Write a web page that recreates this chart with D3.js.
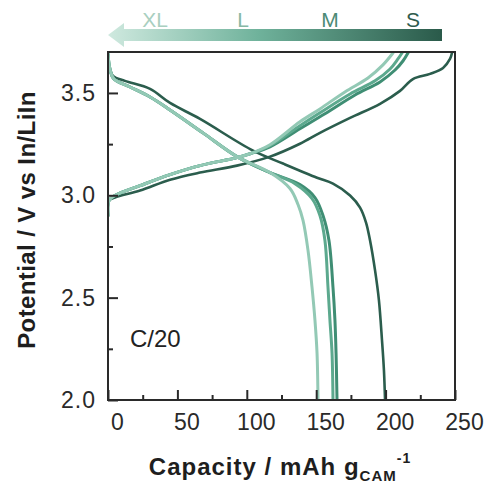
<!DOCTYPE html>
<html>
<head>
<meta charset="utf-8">
<script src="https://cdn.jsdelivr.net/npm/d3@7"></script>
<style>
  html, body { margin: 0; padding: 0; background: #fff; }
  svg { display: block; font-family: "Liberation Sans", Arial, sans-serif; }
</style>
</head>
<body>
<svg id="chart" width="489" height="488"></svg>
<script>
// ---------------- data ----------------
const seriesNames = ["S", "M", "L", "XL"];
const seriesColors = ["#2b5d4d", "#3f8e74", "#5ca98e", "#93c9b5"];
const labelColors = ["#2e5b4d", "#4c8b76", "#86b8a5", "#a9cfc0"];

// capacity (mAh/g) / potential (V) pairs
const S_charge_cap = [0, 0.7, 5.0, 23.1, 44.7, 66.3, 92.9, 116.7, 138.3, 152.7, 174.4, 196.0, 210.4, 219.7, 232.0, 241.4, 246.4, 247.8];
const S_charge_v   = [2.90, 2.974, 2.989, 3.023, 3.076, 3.111, 3.145, 3.189, 3.252, 3.305, 3.378, 3.447, 3.510, 3.568, 3.593, 3.622, 3.666, 3.695];
const S_dis_cap = [0, 0.7, 3.6, 12.2, 30.3, 44.7, 66.3, 104.5, 126.1, 150.6, 162.1, 174.4, 181.6, 185.9, 188.8, 192.4, 195.2, 197.4, 198.8, 199.6];
const S_dis_v   = [3.690, 3.632, 3.583, 3.559, 3.520, 3.451, 3.373, 3.218, 3.155, 3.086, 3.057, 2.999, 2.940, 2.867, 2.779, 2.633, 2.487, 2.292, 2.146, 2.0];

const M_charge_cap = [0, 0.7, 5.0, 23.1, 44.7, 66.3, 92.9, 102.3, 116.7, 138.3, 156.3, 178.0, 196.0, 206.8, 212.5, 216.1];
const M_charge_v   = [2.90, 2.974, 2.999, 3.047, 3.101, 3.145, 3.184, 3.203, 3.237, 3.325, 3.398, 3.490, 3.554, 3.612, 3.656, 3.695];
const M_dis_cap = [0, 1.4, 4.3, 15.9, 30.3, 44.7, 68.4, 92.9, 116.7, 138.3, 149.1, 154.9, 159.2, 162.1, 163.5, 164.3, 165.0];
const M_dis_v   = [3.690, 3.617, 3.568, 3.529, 3.480, 3.417, 3.305, 3.189, 3.111, 3.052, 2.989, 2.901, 2.779, 2.550, 2.390, 2.229, 2.0];

const L_charge_cap = [0, 0.7, 5.0, 23.1, 44.7, 66.3, 92.9, 102.3, 116.7, 138.3, 152.7, 174.4, 192.4, 203.2, 208.9, 211.8];
const L_charge_v   = [2.90, 2.974, 2.999, 3.047, 3.101, 3.145, 3.184, 3.203, 3.242, 3.340, 3.403, 3.495, 3.559, 3.617, 3.666, 3.695];
const L_dis_cap = [0, 1.4, 4.3, 15.9, 30.3, 44.7, 68.4, 92.9, 116.7, 134.7, 147.0, 152.7, 156.3, 158.5, 159.9, 161.4, 162.1];
const L_dis_v   = [3.690, 3.617, 3.568, 3.529, 3.480, 3.417, 3.305, 3.189, 3.111, 3.057, 2.984, 2.901, 2.779, 2.550, 2.390, 2.229, 2.0];

const XL_charge_cap = [0, 0.7, 5.0, 23.1, 44.7, 66.3, 92.9, 102.3, 116.7, 138.3, 152.7, 170.7, 187.3, 198.1, 205.3];
const XL_charge_v   = [2.90, 2.974, 2.999, 3.047, 3.101, 3.145, 3.184, 3.203, 3.247, 3.359, 3.422, 3.505, 3.573, 3.637, 3.695];
const XL_dis_cap = [0, 1.4, 4.3, 15.9, 30.3, 44.7, 68.4, 92.9, 116.7, 131.1, 136.9, 140.5, 144.1, 147.0, 149.1, 150.6, 151.3];
const XL_dis_v   = [3.690, 3.617, 3.568, 3.529, 3.480, 3.417, 3.305, 3.189, 3.111, 3.033, 2.955, 2.877, 2.731, 2.550, 2.390, 2.229, 2.0];

const xMajorTicks = [0, 50, 100, 150, 200, 250];
const xMinorTicks = [25, 75, 125, 175, 225];
const yMajorTicks = [2.0, 2.5, 3.0, 3.5];
const yMinorTicks = [2.25, 2.75, 3.25];
const rateLabel = "C/20";

// ---------------- drawing ----------------
const svg = d3.select("#chart");
const x = d3.scaleLinear().domain([0, 250]).range([108, 455]);
const y = d3.scaleLinear().domain([2.0, 3.7]).range([400, 52]);

const curves = {
  S: [[S_charge_cap, S_charge_v], [S_dis_cap, S_dis_v]],
  M: [[M_charge_cap, M_charge_v], [M_dis_cap, M_dis_v]],
  L: [[L_charge_cap, L_charge_v], [L_dis_cap, L_dis_v]],
  XL: [[XL_charge_cap, XL_charge_v], [XL_dis_cap, XL_dis_v]]
};

const defs = svg.append("defs");
defs.append("clipPath").attr("id", "plotclip")
  .append("rect").attr("x", x(0)).attr("y", y(3.7)).attr("width", x(250) - x(0)).attr("height", y(2.0) - y(3.7));

const line = d3.line().x(d => x(d[0])).y(d => y(d[1])).curve(d3.curveCatmullRom.alpha(0.5));
const plot = svg.append("g").attr("clip-path", "url(#plotclip)");
seriesNames.forEach((name, i) => {
  curves[name].forEach(([caps, vs]) => {
    const pts = caps.map((c, k) => [c, vs[k]]);
    plot.append("path").attr("d", line(pts))
      .attr("fill", "none").attr("stroke", seriesColors[i])
      .attr("stroke-width", name === "S" ? 2.6 : 3)
      .attr("stroke-linejoin", "round").attr("stroke-linecap", "round");
  });
});

// axes
const axisColor = "#2a2a2a";
const fontSize = 23;
const gx = svg.append("g").attr("transform", `translate(0,${y(2.0)})`)
  .call(d3.axisBottom(x).tickValues(xMajorTicks).tickSize(-10).tickPadding(14).tickFormat(d3.format("d")));
const gxm = svg.append("g").attr("transform", `translate(0,${y(2.0)})`)
  .call(d3.axisBottom(x).tickValues(xMinorTicks).tickSize(-5).tickFormat(""));
const gy = svg.append("g").attr("transform", `translate(${x(0)},0)`)
  .call(d3.axisLeft(y).tickValues(yMajorTicks).tickSize(-10).tickPadding(12).tickFormat(d3.format(".1f")));
const gym = svg.append("g").attr("transform", `translate(${x(0)},0)`)
  .call(d3.axisLeft(y).tickValues(yMinorTicks).tickSize(-5).tickFormat(""));
[gx, gxm, gy, gym].forEach(g => {
  g.select(".domain").remove();
  g.selectAll(".tick line").attr("stroke", axisColor).attr("stroke-width", 2);
  g.selectAll("text").attr("fill", axisColor).attr("font-size", fontSize)
    .attr("font-family", "'Liberation Sans', Arial, sans-serif");
});
gx.selectAll("text").attr("x", 9);
gy.selectAll("text").attr("letter-spacing", 1);

// frame
svg.append("rect").attr("x", x(0)).attr("y", y(3.7))
  .attr("width", x(250) - x(0)).attr("height", y(2.0) - y(3.7))
  .attr("fill", "none").attr("stroke", axisColor).attr("stroke-width", 2);

// rate label
svg.append("text").attr("x", 130).attr("y", 347).attr("font-size", 24).attr("fill", "#222").text(rateLabel);

// axis titles
const xt = svg.append("text").attr("x", 280).attr("y", 475).attr("text-anchor", "middle")
  .attr("font-size", 24).attr("font-weight", "bold").attr("fill", "#1e1e1e").attr("letter-spacing", 1);
xt.append("tspan").text("Capacity / mAh g");
xt.append("tspan").attr("font-size", 15).attr("dy", 6).text("CAM");
xt.append("tspan").attr("font-size", 14).attr("dy", -18).text("-1");

svg.append("text").attr("transform", `translate(35,${(y(2.0) + y(3.7)) / 2 - 6}) rotate(-90)`)
  .attr("text-anchor", "middle").attr("font-size", 24).attr("font-weight", "bold").attr("fill", "#1e1e1e")
  .attr("letter-spacing", 0.4)
  .text("Potential / V vs In/LiIn");

// gradient arrow (size trend)
const grad = defs.append("linearGradient").attr("id", "arrowGrad")
  .attr("gradientUnits", "userSpaceOnUse").attr("x1", 108).attr("x2", 442).attr("y1", 0).attr("y2", 0);
grad.append("stop").attr("offset", 0).attr("stop-color", "#cfe9df");
grad.append("stop").attr("offset", 0.45).attr("stop-color", "#6fb29b");
grad.append("stop").attr("offset", 1).attr("stop-color", "#2a5a4a");
svg.append("path")
  .attr("d", "M108,35 L124,23 L124,29 L442,29 L442,41 L124,41 L124,47 Z")
  .attr("fill", "url(#arrowGrad)");

const arrowLabelX = [413, 330, 243, 155];
seriesNames.forEach((n, i) => {
  svg.append("text").attr("x", arrowLabelX[i]).attr("y", 27).attr("text-anchor", "middle")
    .attr("font-size", 21).attr("fill", labelColors[i]).text(n);
});
</script>
</body>
</html>
